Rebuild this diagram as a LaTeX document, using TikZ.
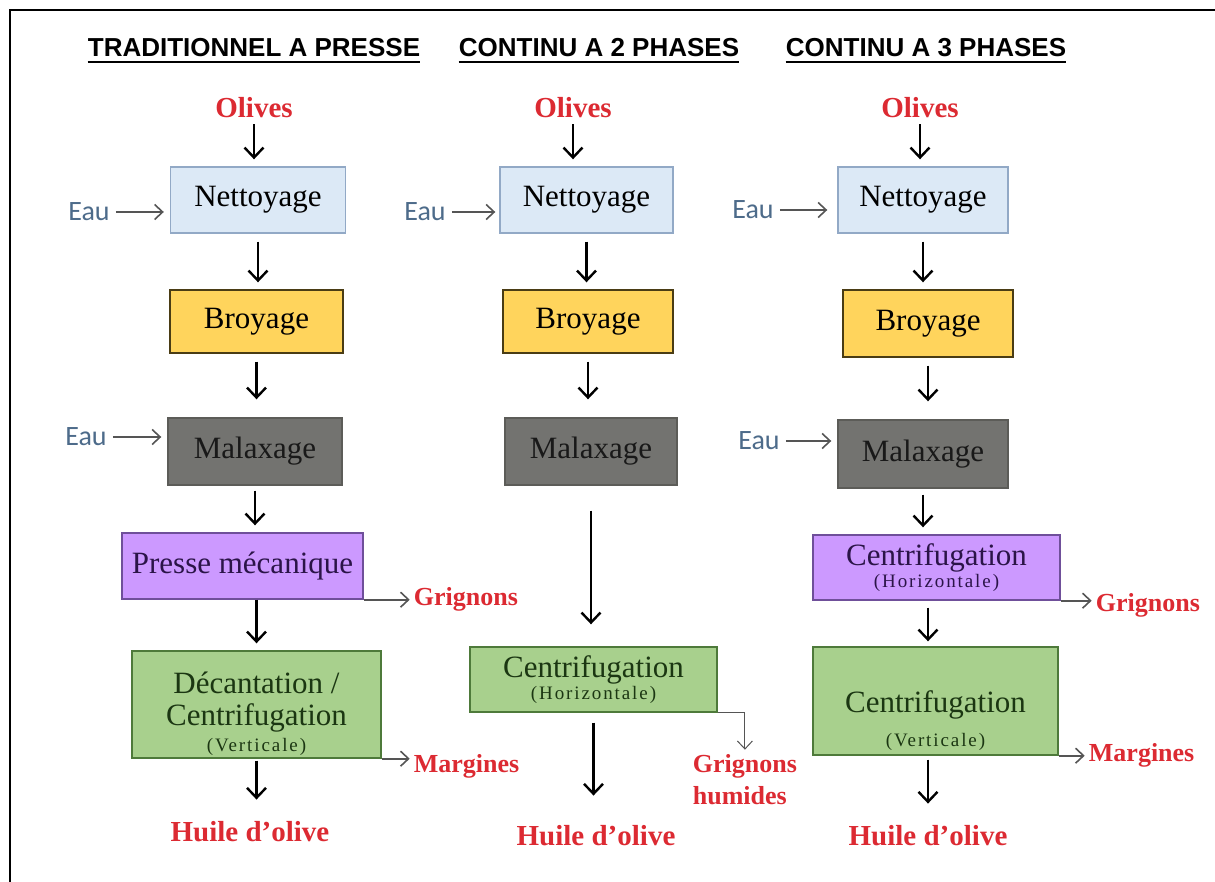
\documentclass[tikz,border=0pt]{standalone}
\usepackage{fontspec}
\setmainfont{Liberation Serif}
\newfontfamily\headfont{Liberation Sans}
\newfontfamily\waterfont{Carlito}
\newfontfamily\parenfont[LetterSpace=10]{Liberation Serif}
\usetikzlibrary{arrows.meta,positioning}

\definecolor{cleanfill}{HTML}{DCE9F6}
\definecolor{cleandraw}{HTML}{92A9C6}
\definecolor{crushfill}{HTML}{FFD45C}
\definecolor{crushdraw}{HTML}{4A3C14}
\definecolor{kneadfill}{HTML}{737370}
\definecolor{kneaddraw}{HTML}{5C5C58}
\definecolor{pressfill}{HTML}{CC99FF}
\definecolor{pressdraw}{HTML}{6F4F9A}
\definecolor{presstext}{HTML}{2B1448}
\definecolor{sepfill}{HTML}{A8D08D}
\definecolor{sepdraw}{HTML}{4E7A3A}
\definecolor{septext}{HTML}{1B3612}
\definecolor{prodred}{HTML}{DC2A32}
\definecolor{waterblue}{HTML}{4D6B8A}
\definecolor{sidegray}{HTML}{555555}

\newcommand\paren[1]{{\parenfont\fontsize{19}{20}\selectfont #1}}

\begin{document}
\begin{tikzpicture}[x=1pt,y=-1pt,>={Straight Barb[length=10pt,width=19pt]},
                    font=\fontsize{31}{32}\selectfont]
  \tikzstyle{box}=[draw,line width=1.4pt,inner sep=0pt,align=center]
  \tikzstyle{clean}=[box,fill=cleanfill,draw=cleandraw]
  \tikzstyle{crush}=[box,fill=crushfill,draw=crushdraw]
  \tikzstyle{knead}=[box,fill=kneadfill,draw=kneaddraw,text=black!90]
  \tikzstyle{press}=[box,fill=pressfill,draw=pressdraw,text=presstext]
  \tikzstyle{sep}=[box,fill=sepfill,draw=sepdraw,text=septext]
  \tikzstyle{head}=[font=\headfont\bfseries\fontsize{26}{30}\selectfont,inner sep=0pt,anchor=base]
  \tikzstyle{prod}=[text=prodred,font=\bfseries\fontsize{29}{30}\selectfont,inner sep=2pt]
  \tikzstyle{waste}=[prod,font=\bfseries\fontsize{26}{32}\selectfont]
  \tikzstyle{water}=[text=waterblue,font=\waterfont\fontsize{28}{30}\selectfont,inner sep=2pt]
  \tikzstyle{flow}=[->,line width=2.4pt,shorten <=8pt,shorten >=7pt]
  \tikzstyle{side}=[->,color=sidegray,line width=1.6pt,shorten >=2pt,
                    >={Straight Barb[length=8pt,width=15pt]}]

  \useasboundingbox (0,0) rectangle (1215,882);
  \draw[line width=2pt] (10,882) -- (10,10) -- (1215,10);

  % headings
  \node[head] (h1) at (254,57) {TRADITIONNEL A PRESSE};
  \node[head] (h2) at (599,57) {CONTINU A 2 PHASES};
  \node[head] (h3) at (926,57) {CONTINU A 3 PHASES};
  \foreach \h in {h1,h2,h3}
    \draw[line width=2pt] ([yshift=-5pt]\h.base west) -- ([yshift=-5pt]\h.base east);

  % traditionnel a presse
  \node[prod]  (o1)  at (254,108) {Olives};
  \node[clean,minimum width=175pt,minimum height=66pt] (n1) at (258,200) {Nettoyage};
  \node[water] (e1)  at (89,212) {Eau};
  \node[crush,minimum width=173pt,minimum height=63pt] (b1) at (256.5,321.5) {Broyage};
  \node[water] (e1b) at (86,437) {Eau};
  \node[knead,minimum width=174pt,minimum height=67pt] (m1) at (255,451.5) {Malaxage};
  \node[press,minimum width=241pt,minimum height=66pt] (p1) at (242.5,566) {Presse mécanique};
  \node[waste] (g1) [right=48pt of p1.south east] {Grignons};
  \node[sep,minimum width=249pt,minimum height=107pt] (d1) at (256.5,704.5)
       {\rule{0pt}{40pt}Décantation /\\Centrifugation\\[-6pt]\paren{(Verticale)}};
  \node[waste] (mg1) [right=30pt of d1.south east,yshift=-8pt] {Margines};
  \node[prod]  (hu1) at (250,832) {Huile d’olive};

  % continu a 2 phases
  \node[prod]  (o2)  at (573,108) {Olives};
  \node[clean,minimum width=173pt,minimum height=66pt] (n2) at (586.5,200) {Nettoyage};
  \node[water] (e2)  at (425,212) {Eau};
  \node[crush,minimum width=170pt,minimum height=63pt] (b2) at (588,321.5) {Broyage};
  \node[knead,minimum width=172pt,minimum height=67pt] (m2) at (591,451.5) {Malaxage};
  \node[sep,minimum width=247pt,minimum height=65pt] (c2) at (593.5,679.5)
       {Centrifugation\\[-10pt]\paren{(Horizontale)}};
  \node[waste,align=left,anchor=north west]
       (gh2) [below right=40pt and -27pt of c2.south east] {Grignons\\humides};
  \node[prod]  (hu2) at (596,836) {Huile d’olive};

  % continu a 3 phases
  \node[prod]  (o3)  at (920,108) {Olives};
  \node[clean,minimum width=170pt,minimum height=66pt] (n3) at (923,200) {Nettoyage};
  \node[water] (e3)  at (753,210) {Eau};
  \node[crush,minimum width=170pt,minimum height=67pt] (b3) at (928,323.5) {Broyage};
  \node[water] (e3b) at (759,441) {Eau};
  \node[knead,minimum width=170pt,minimum height=68pt] (m3) at (923,454) {Malaxage};
  \node[press,minimum width=247pt,minimum height=65pt] (c3a) at (936.5,567.5)
       {Centrifugation\\[-10pt]\paren{(Horizontale)}};
  \node[waste] (g3) [right=33pt of c3a.south east,yshift=-5pt] {Grignons};
  \node[sep,minimum width=245pt,minimum height=108pt] (c3b) at (935.5,701)
       {\rule{0pt}{62pt}Centrifugation\\[2pt]\paren{(Verticale)}};
  \node[waste] (mg3) [right=28pt of c3b.south east] {Margines};
  \node[prod]  (hu3) at (928,836) {Huile d’olive};

  % main flow
  \path[flow] (o1) edge[shorten <=4pt] (o1 |- n1.north)
              (n1) edge (n1 |- b1.north)
              (b1) edge[shorten >=18pt] (b1 |- m1.north)
              (m1) edge[shorten <=5pt] (m1 |- p1.north)
              (p1.south -| d1) edge[shorten <=0pt] (d1.north)
              (d1) edge[shorten <=2pt,shorten >=20pt] (d1 |- hu1.north)
              (o2) edge[shorten <=4pt] (o2 |- n2.north)
              (n2) edge (n2 |- b2.north)
              (b2) edge[shorten >=18pt] (b2 |- m2.north)
              (m2) edge[shorten <=25pt,shorten >=22pt] (m2 |- c2.north)
              (c2) edge[shorten <=10pt,shorten >=28pt] (c2 |- hu2.north)
              (o3) edge[shorten <=4pt] (o3 |- n3.north)
              (n3) edge (n3 |- b3.north)
              (b3) edge[shorten >=18pt] (b3 |- m3.north)
              (m3) edge[shorten <=6pt] (m3 |- c3a.north)
              (c3a.south -| hu3) edge[shorten <=7pt,shorten >=5pt] (hu3 |- c3b.north)
              (hu3 |- c3b.south) edge[shorten <=4pt,shorten >=20pt] (hu3);

  % water in, by-products out
  \path[side] (e1)  edge[shorten <=4pt,shorten >=6pt] (e1 -| n1.west)
              (e1b) edge[shorten <=4pt,shorten >=6pt] (e1b -| m1.west)
              (e2)  edge[shorten <=4pt,shorten >=4pt] (e2 -| n2.west)
              (e3)  edge[shorten <=4pt,shorten >=10pt] (e3 -| n3.west)
              (e3b) edge[shorten <=4pt,shorten >=6pt] (e3b -| m3.west)
              (p1.south east) edge (g1.west)
              (d1.south east) edge (d1.south east -| mg1.west)
              (c3a.south east) edge (c3a.south east -| g3.west)
              (c3b.south east) edge (c3b.south east -| mg3.west);
  \draw[side,line width=1pt,shorten >=3pt] (c2.south east) -| (gh2.north);
\end{tikzpicture}
\end{document}
